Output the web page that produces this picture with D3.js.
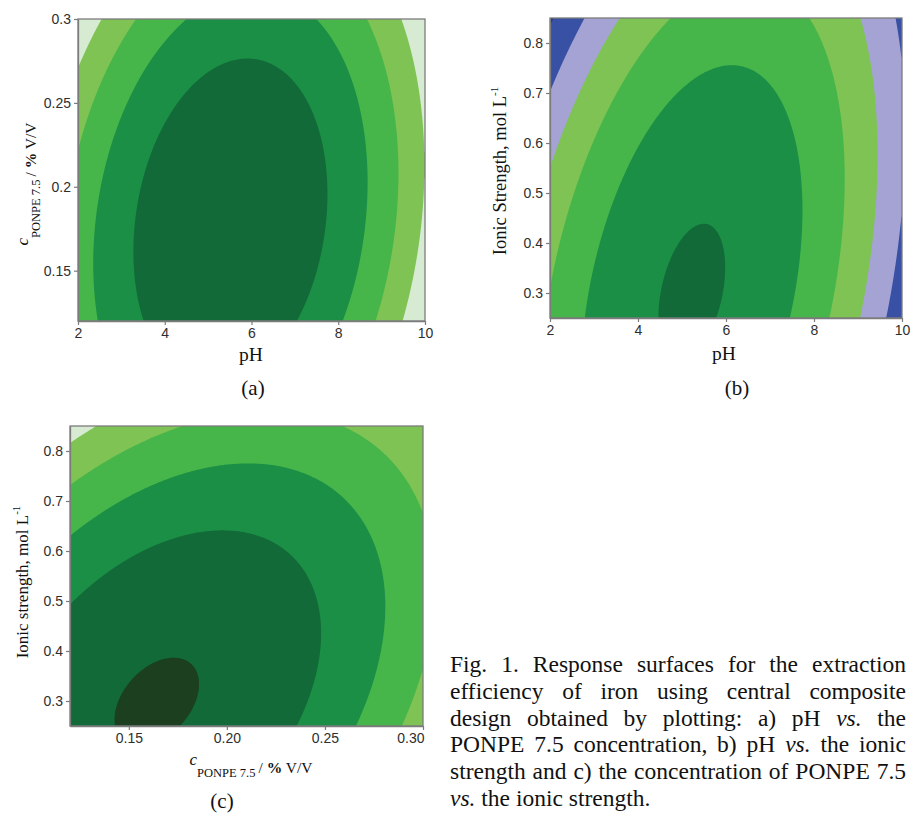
<!DOCTYPE html>
<html><head><meta charset="utf-8">
<script src="https://cdn.jsdelivr.net/npm/d3@7"></script>
<style>body{margin:0;background:#fff}</style>
</head><body>
<svg id="fig" width="911" height="813"></svg>
<script>
// ---------------- data ----------------
const phRange = [2, 10];
const concRange = [0.12, 0.30];
const ionicRange = [0.25, 0.85];
const phTicks = [2, 4, 6, 8, 10];
const concTicksA = [0.15, 0.2, 0.25, 0.3];
const concTicksC = [0.15, 0.20, 0.25, 0.30];
const ionicTicks = [0.3, 0.4, 0.5, 0.6, 0.7, 0.8];
// fitted quadratic response surfaces in coded units (-1..1): [b0, bx, by, bxx, byy, bxy]
const coefA = [98.70, -5.94, -5.38, -33.0, -8.72, 5.94];
const coefB = [87.55, -4.48, -7.28, -32.0, -5.52, 9.60];
const coefC = [94.13, -6.92, -11.50, -14.70, -9.76, 9.57];
// contour levels (extraction efficiency, %)
const levelsA = [60, 70, 80, 90];
const levelsB = [39, 50, 60, 70, 80, 90];
const levelsC = [60, 70, 80, 90, 100];
const coloursA = ["#d7ebd3", "#7ec353", "#47b64a", "#1b8f45", "#116a37"];
const coloursB = ["#22327f", "#3851a4", "#a5a3d4", "#7ec353", "#47b64a", "#1b8f45", "#116a37"];
const coloursC = ["#d7ebd3", "#7ec353", "#47b64a", "#1b8f45", "#116a37", "#1c3f1f"];
const captionLines = [
  "Fig. 1. Response surfaces for the extraction",
  "efficiency of iron using central composite",
  "design obtained by plotting: a) pH vs. the",
  "PONPE 7.5 concentration, b) pH vs. the ionic",
  "strength and c) the concentration of PONPE 7.5",
  "vs. the ionic strength."
];

// ---------------- drawing ----------------
const svg = d3.select("#fig");
svg.append("rect").attr("width", 911).attr("height", 813).attr("fill", "#fff");
const AX = "#7c7c7c";
const SERIF = "'Liberation Serif','Times New Roman',serif";
const SANS = "'Liberation Sans',Arial,sans-serif";

const panels = [
  {id: "a", xRange: phRange, yRange: concRange, coef: coefA, levels: levelsA, colours: coloursA,
   xTicks: phTicks, yTicks: concTicksA, xFmt: d => String(d), yFmt: d => String(d), box: [78, 19, 425, 321]},
  {id: "b", xRange: phRange, yRange: ionicRange, coef: coefB, levels: levelsB, colours: coloursB,
   xTicks: phTicks, yTicks: ionicTicks, xFmt: d => String(d), yFmt: d3.format(".1f"), box: [550, 18, 902, 318]},
  {id: "c", xRange: concRange, yRange: ionicRange, coef: coefC, levels: levelsC, colours: coloursC,
   xTicks: concTicksC, yTicks: ionicTicks, xFmt: d3.format(".2f"), yFmt: d3.format(".1f"), box: [70, 426, 423, 726], lastEnd: true}
];

panels.forEach(cfg => {
  const [L, T, R, B] = cfg.box;
  const x = d3.scaleLinear().domain(cfg.xRange).range([L, R]);
  const y = d3.scaleLinear().domain(cfg.yRange).range([B, T]);
  const nx = 240, ny = 220;
  const dx = cfg.xRange[1] - cfg.xRange[0], dy = cfg.yRange[1] - cfg.yRange[0];
  const xm = (cfg.xRange[0] + cfg.xRange[1]) / 2, ym = (cfg.yRange[0] + cfg.yRange[1]) / 2;
  const [b0, bx, by, bxx, byy, bxy] = cfg.coef;
  const values = new Float64Array(nx * ny);
  for (let j = 0; j < ny; j++) {
    for (let i = 0; i < nx; i++) {
      const xv = cfg.xRange[0] + (i + 0.5) / nx * dx;
      const yv = cfg.yRange[1] - (j + 0.5) / ny * dy;
      const u = (xv - xm) / (dx / 2), v = (yv - ym) / (dy / 2);
      values[j * nx + i] = b0 + bx * u + by * v + bxx * u * u + byy * v * v + bxy * u * v;
    }
  }
  const contours = d3.contours().size([nx, ny]).thresholds(cfg.levels)(values);
  const proj = d3.geoTransform({
    point(px, py) {
      this.stream.point(x(cfg.xRange[0] + px / nx * dx), y(cfg.yRange[1] - py / ny * dy));
    }
  });
  const path = d3.geoPath(proj);
  const g = svg.append("g");
  g.append("clipPath").attr("id", "clip" + cfg.id)
    .append("rect").attr("x", L).attr("y", T).attr("width", R - L).attr("height", B - T);
  const cg = g.append("g").attr("clip-path", `url(#clip${cfg.id})`);
  cg.append("rect").attr("x", L).attr("y", T).attr("width", R - L).attr("height", B - T)
    .attr("fill", cfg.colours[0]);
  cg.selectAll("path.band").data(contours).join("path").attr("class", "band")
    .attr("d", path).attr("fill", (d, k) => cfg.colours[k + 1]);

  // frame
  g.append("rect").attr("x", L).attr("y", T).attr("width", R - L).attr("height", B - T)
    .attr("fill", "none").attr("stroke", AX).attr("stroke-width", 1.3);

  const xa = g.append("g").attr("transform", `translate(0,${B})`)
    .call(d3.axisBottom(x).tickValues(cfg.xTicks).tickFormat(cfg.xFmt).tickSize(4).tickSizeOuter(0));
  const ya = g.append("g").attr("transform", `translate(${L},0)`)
    .call(d3.axisLeft(y).tickValues(cfg.yTicks).tickFormat(cfg.yFmt).tickSize(4).tickSizeOuter(0));
  [xa, ya].forEach(a => {
    a.select(".domain").attr("stroke", AX).attr("stroke-width", 1.3);
    a.selectAll(".tick line").attr("stroke", AX).attr("stroke-width", 1.2);
    a.selectAll(".tick text").attr("fill", "#2e2e2e").style("font-family", SANS).style("font-size", "14px");
  });
  if (cfg.lastEnd) {
    xa.selectAll(".tick text").filter((d, i, n) => i === n.length - 1).attr("text-anchor", "end").attr("dx", 1);
  }
});

// ---- axis titles ----
function concTitle(sel) {
  sel.append("tspan").text("c").style("font-style", "italic").style("font-size", "17px").attr("dy", -8);
  sel.append("tspan").text("PONPE 7.5").style("font-size", "12.5px").attr("dy", 12);
  sel.append("tspan").text("/ ").style("font-size", "15.5px").attr("dy", -4).attr("dx", 3);
  sel.append("tspan").text("%").style("font-weight", "bold").style("font-size", "15.5px");
  sel.append("tspan").text(" V/V").style("font-size", "15.5px");
}
function ionicTitle(sel, word) {
  sel.append("tspan").text("Ionic " + word + ", mol L");
  sel.append("tspan").text("-1").style("font-size", "11px").attr("dy", -8);
}
const titles = svg.append("g").style("font-family", SERIF).attr("fill", "#111");
// (a)
titles.append("text").attr("x", 251).attr("y", 361).attr("text-anchor", "middle").style("font-size", "19.5px").text("pH");
titles.append("text").attr("transform", "translate(36,184) rotate(-90)").attr("text-anchor", "middle").call(concTitle);
titles.append("text").attr("x", 253).attr("y", 395).attr("text-anchor", "middle").style("font-size", "21px").text("(a)");
// (b)
titles.append("text").attr("x", 724).attr("y", 360).attr("text-anchor", "middle").style("font-size", "19.5px").text("pH");
titles.append("text").attr("transform", "translate(506,171) rotate(-90)").attr("text-anchor", "middle")
  .style("font-size", "18.5px").call(ionicTitle, "Strength");
titles.append("text").attr("x", 737).attr("y", 395).attr("text-anchor", "middle").style("font-size", "21px").text("(b)");
// (c)
titles.append("text").attr("x", 251).attr("y", 773).attr("text-anchor", "middle").call(concTitle);
titles.append("text").attr("transform", "translate(28,582) rotate(-90)").attr("text-anchor", "middle")
  .style("font-size", "17px").call(ionicTitle, "strength");
titles.append("text").attr("x", 222).attr("y", 808).attr("text-anchor", "middle").style("font-size", "21px").text("(c)");

// ---- justified caption ----
const capL = 450, capR = 906, capTop = 672, capStep = 26.8;
const cap = svg.append("g").style("font-family", SERIF).style("font-size", "23.5px").attr("fill", "#111");
captionLines.forEach((line, li) => {
  const words = line.split(" ");
  const yb = capTop + li * capStep;
  const nodes = words.map(w => cap.append("text").attr("y", yb).text(w)
    .style("font-style", w === "vs." ? "italic" : "normal"));
  const widths = nodes.map(n => n.node().getComputedTextLength());
  const total = d3.sum(widths);
  const last = li === captionLines.length - 1;
  const gap = last ? 5.9 : (capR - capL - total) / (words.length - 1);
  let xp = capL;
  nodes.forEach((n, k) => { n.attr("x", xp); xp += widths[k] + gap; });
});
</script>
</body></html>
